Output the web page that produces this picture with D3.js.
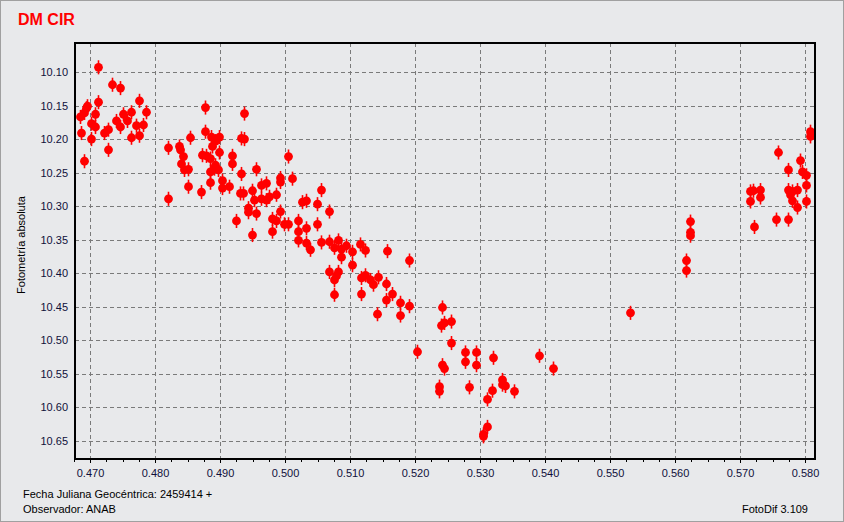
<!DOCTYPE html>
<html><head><meta charset="utf-8">
<script src="https://cdn.jsdelivr.net/npm/d3@7/dist/d3.min.js"></script>
<style>
html,body{margin:0;padding:0;background:#e8e9eb;}
svg{display:block;}
text{font-family:"Liberation Sans",Arial,sans-serif;}
</style></head>
<body>
<svg id="chart" width="844" height="522"></svg>
<script>
// ---- data ----
const title = "DM CIR";
const yLabel = "Fotometría absoluta";
const footLeft1 = "Fecha Juliana Geocéntrica: 2459414 +";
const footLeft2 = "Observador: ANAB";
const footRight = "FotoDif 3.109";
const xTicks = [0.470,0.480,0.490,0.500,0.510,0.520,0.530,0.540,0.550,0.560,0.570,0.580];
const yTicks = [10.10,10.15,10.20,10.25,10.30,10.35,10.40,10.45,10.50,10.55,10.60,10.65];
const errBar = 0.0105;
const jd = [
0.4712,0.4734,0.4746,0.4712,0.4775,0.4695,0.4694,0.4691,0.4685,0.4708,
0.4751,0.4763,0.4786,0.4740,0.4757,0.4702,0.4708,0.4746,0.4771,0.4782,
0.4728,0.4722,0.4686,0.4702,0.4763,0.4775,0.4728,0.4691,
0.4820,0.4837,0.4839,0.4843,0.4840,0.4845,0.4851,0.4820,0.4851,0.4854,
0.4877,0.4877,0.4886,0.4898,0.4892,0.4888,0.4898,0.4872,0.4878,0.4885,
0.4892,0.4891,0.4897,0.4885,0.4903,0.4885,0.4870,0.4903,0.4914,0.4918,
0.4918,0.4932,0.4937,0.4937,0.4933,0.4955,0.4925,0.4930,0.4936,0.4943,
0.4943,0.4949,0.4952,0.4956,0.4949,0.4963,0.4971,0.4963,0.4971,0.4976,
0.4986,0.4980,0.4986,0.4980,0.4992,0.4992,0.4992,0.5005,0.5011,0.4998,
0.5005,0.5020,0.5020,0.5032,0.5020,0.5032,0.5026,0.5033,0.5038,0.5055,
0.5049,0.5068,0.5049,0.5055,0.5068,0.5081,0.5075,0.5086,0.5094,0.5086,
0.5103,0.5116,0.5123,0.5103,0.5157,0.5191,0.5068,0.5081,0.5078,0.5075,
0.5075,0.5117,0.5123,0.5117,0.5130,0.5136,0.5143,0.5156,0.5165,0.5156,
0.5177,0.5190,0.5141,0.5177,0.5241,0.5244,0.5240,0.5255,0.5255,0.5203,
0.5241,0.5245,0.5277,0.5294,0.5277,0.5294,0.5320,0.5391,0.5412,0.5237,
0.5237,0.5283,0.5334,0.5334,0.5339,0.5318,0.5352,0.5311,0.5310,0.5305,
0.5305,
0.5531,0.5617,0.5617,0.5623,0.5623,0.5623,0.5715,0.5720,0.5731,0.5715,
0.5731,0.5722,0.5758,0.5774,0.5793,0.5795,0.5802,0.5802,0.5774,0.5780,
0.5787,0.5780,0.5787,0.5802,0.5755,0.5774,0.5808,0.5808,0.5777
];
const mag = [
10.093,10.119,10.124,10.145,10.143,10.151,10.154,10.161,10.167,10.163,
10.163,10.160,10.160,10.173,10.173,10.177,10.182,10.182,10.180,10.179,
10.186,10.191,10.191,10.200,10.198,10.195,10.216,10.233,
10.213,10.211,10.216,10.226,10.237,10.246,10.245,10.289,10.271,10.198,
10.153,10.189,10.197,10.197,10.203,10.211,10.220,10.224,10.225,10.229,
10.239,10.244,10.246,10.249,10.262,10.265,10.279,10.273,10.271,10.225,
10.237,10.199,10.200,10.162,10.252,10.245,10.322,10.281,10.281,10.303,
10.309,10.277,10.291,10.311,10.343,10.269,10.266,10.289,10.291,10.286,
10.283,10.319,10.322,10.338,10.308,10.258,10.264,10.226,10.259,10.327,
10.327,10.322,10.338,10.333,10.351,10.355,10.294,10.292,10.365,10.276,
10.297,10.308,10.327,10.354,10.353,10.351,10.362,10.364,10.359,10.376,
10.368,10.357,10.366,10.388,10.367,10.381,10.398,10.398,10.404,10.410,
10.432,10.407,10.403,10.431,10.410,10.417,10.406,10.416,10.431,10.440,
10.444,10.449,10.461,10.463,10.451,10.474,10.478,10.472,10.504,10.517,
10.537,10.542,10.518,10.518,10.532,10.537,10.526,10.523,10.542,10.569,
10.576,10.570,10.559,10.566,10.568,10.575,10.576,10.588,10.629,10.640,
10.643,
10.459,10.381,10.396,10.323,10.339,10.344,10.278,10.277,10.276,10.293,
10.287,10.331,10.220,10.246,10.232,10.249,10.254,10.269,10.276,10.278,
10.276,10.292,10.302,10.293,10.320,10.320,10.189,10.196,10.283
];

// ---- layout ----
const W = 844, H = 522;
const L = 75, R = 815, T = 43, B = 459;
const svg = d3.select("#chart");
svg.append("rect").attr("x",0.5).attr("y",0.5).attr("width",W-1).attr("height",H-1)
  .attr("fill","#e8e9eb").attr("stroke","#a0a0a0");

const x = d3.scaleLinear().domain([0.467692, 0.581538]).range([L, R]);
const y = d3.scaleLinear().domain([10.05678, 10.67683]).range([T, B]);

// grid
const g = svg.append("g");
g.selectAll("line.vg").data(xTicks).enter().append("line")
  .attr("x1",d=>Math.round(x(d))+0.5).attr("x2",d=>Math.round(x(d))+0.5)
  .attr("y1",T).attr("y2",B)
  .attr("stroke","#7a7a7a").attr("stroke-width",1).attr("stroke-dasharray","4,3");
g.selectAll("line.hg").data(yTicks).enter().append("line")
  .attr("y1",d=>Math.round(y(d))+0.5).attr("y2",d=>Math.round(y(d))+0.5)
  .attr("x1",L).attr("x2",R)
  .attr("stroke","#7a7a7a").attr("stroke-width",1).attr("stroke-dasharray","4,3");

// x axis
const xAxis = d3.axisBottom(x).tickValues(xTicks).tickFormat(d3.format(".3f")).tickSize(4).tickPadding(6);
const xa = svg.append("g").attr("transform",`translate(0,${B})`).call(xAxis);
xa.select(".domain").remove();
xa.selectAll("text").attr("font-size",11).attr("fill","#10103a").attr("font-family","Liberation Sans, Arial, sans-serif");
xa.selectAll("line").attr("stroke","#000");
const minor = d3.range(0.4675, 0.5816, 0.0025);
svg.append("g").selectAll("line").data(minor).enter().append("line")
  .attr("x1",d=>Math.round(x(d))+0.5).attr("x2",d=>Math.round(x(d))+0.5)
  .attr("y1",B).attr("y2",B+3).attr("stroke","#000");

// y axis
const yAxis = d3.axisLeft(y).tickValues(yTicks).tickFormat(d3.format(".2f")).tickSize(0).tickPadding(7);
const ya = svg.append("g").attr("transform",`translate(${L},0)`).call(yAxis);
ya.select(".domain").remove();
ya.selectAll("text").attr("font-size",11).attr("fill","#10103a").attr("font-family","Liberation Sans, Arial, sans-serif");

// points
const pts = jd.map((d,i)=>({x:d, y:mag[i]}));
const pg = svg.append("g");
pg.selectAll("line.err").data(pts).enter().append("line")
  .attr("x1",d=>Math.round(x(d.x))+0.5).attr("x2",d=>Math.round(x(d.x))+0.5)
  .attr("y1",d=>y(d.y-errBar)).attr("y2",d=>y(d.y+errBar))
  .attr("stroke","#ff0000").attr("stroke-width",1.6);
pg.selectAll("circle").data(pts).enter().append("circle")
  .attr("cx",d=>Math.round(x(d.x))+0.5).attr("cy",d=>y(d.y))
  .attr("r",4.4).attr("fill","#ff0000");

// frame
svg.append("rect").attr("x",L).attr("y",T).attr("width",R-L).attr("height",B-T)
  .attr("fill","none").attr("stroke","#000").attr("stroke-width",2);

// texts
svg.append("text").attr("x",18).attr("y",25).text(title)
  .attr("font-size",16).attr("font-weight","bold").attr("fill","#ff0000");
svg.append("text").attr("transform","translate(25,245) rotate(-90)")
  .attr("text-anchor","middle").attr("font-size",11).attr("fill","#000").text(yLabel);
svg.append("text").attr("x",23).attr("y",498).attr("font-size",11).attr("fill","#000").text(footLeft1);
svg.append("text").attr("x",23).attr("y",513).attr("font-size",11).attr("fill","#000").text(footLeft2);
svg.append("text").attr("x",808).attr("y",513).attr("text-anchor","end").attr("font-size",11).attr("fill","#000").text(footRight);
</script>
</body></html>
